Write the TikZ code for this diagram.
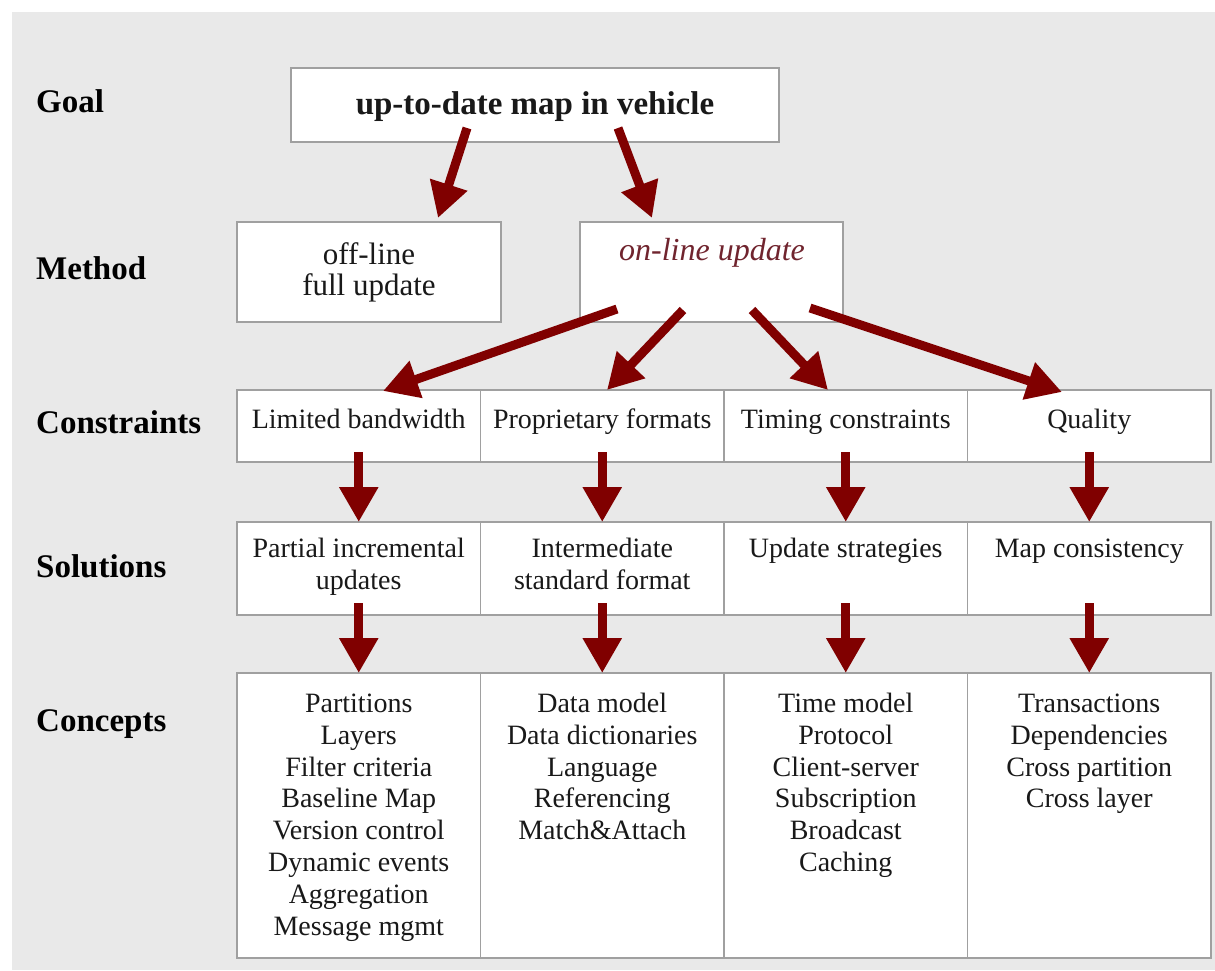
\documentclass[tikz,border=0pt]{standalone}
\usepackage{fontspec}
\setmainfont{Liberation Serif}
\usetikzlibrary{arrows.meta}
\definecolor{bggray}{RGB}{233,233,233}
\definecolor{boxline}{RGB}{160,160,160}
\definecolor{arrowred}{RGB}{128,0,0}
\definecolor{onlinered}{RGB}{112,36,46}
\definecolor{ink}{RGB}{25,25,25}
\begin{document}
\begin{tikzpicture}[x=1pt,y=-1pt,
  box/.style={draw=boxline, line width=1.5pt, fill=white, inner sep=0pt,
    outer sep=0pt, anchor=north west},
  rowlabel/.style={anchor=base west, inner sep=0pt,
    font=\fontsize{33}{38}\selectfont\bfseries},
  boxtext/.style={inner sep=0pt, text=ink, font=\fontsize{28}{31.9}\selectfont},
  celltext/.style={boxtext, anchor=base},
  listtext/.style={boxtext, anchor=north, align=center},
  bigarrow/.style={draw=arrowred, line width=9pt,
    -{Triangle[width=37pt,length=35pt]}}
]
% canvas and grey panel
\useasboundingbox (0,0) rectangle (1215,970);
\fill[white] (0,0) rectangle (1215,970);
\fill[bggray] (12,12) rectangle (1215,970);

% row labels
\node[rowlabel] (lgoal) at (36,112) {Goal};
\node[rowlabel] (lmethod) at (36,279) {Method};
\node[rowlabel] (lcons) at (36,433) {Constraints};
\node[rowlabel] (lsol) at (36,577) {Solutions};
\node[rowlabel] (lconc) at (36,731) {Concepts};

% goal and methods
\node[box, minimum width=488pt, minimum height=74pt] (goal) at (291,68) {};
\node[box, minimum width=264pt, minimum height=100pt] (off) at (237,222) {};
\node[box, minimum width=263pt, minimum height=100pt] (on) at (580,222) {};

\node[boxtext, anchor=base, font=\fontsize{33}{38}\selectfont\bfseries]
  (goaltext) at (535,114) {up-to-date map in vehicle};
\node[listtext, font=\fontsize{31}{28.5}\selectfont]
  (offtext) at (369,242) {\strut off-line\\full update};
\node[boxtext, anchor=base, text=onlinered, font=\fontsize{32}{36}\selectfont\itshape]
  (ontext) at (712,260) {on-line update};

% four columns: constraints, solutions, concepts
\foreach \i/\x in {1/237,2/480.5,3/724,4/967.5}{
  \node[box, minimum width=243.5pt, minimum height=72pt] (c\i) at (\x,390) {};
  \node[box, minimum width=243.5pt, minimum height=93pt] (s\i) at (\x,522) {};
  \node[box, minimum width=243.5pt, minimum height=285pt] (k\i) at (\x,673) {};
}

\node[celltext] (ct1) at (358.75,428) {Limited bandwidth};
\node[celltext] (ct2) at (602.25,428) {Proprietary formats};
\node[celltext] (ct3) at (845.75,428) {Timing constraints};
\node[celltext] (ct4) at (1089.25,428) {Quality};

\node[listtext] (st1) at (358.75,534.6) {\strut Partial incremental\\updates};
\node[listtext] (st2) at (602.25,534.6) {\strut Intermediate\\standard format};
\node[listtext] (st3) at (845.75,534.6) {\strut Update strategies};
\node[listtext] (st4) at (1089.25,534.6) {\strut Map consistency};

\node[listtext] (kt1) at (358.75,689.7) {\strut Partitions\\Layers\\Filter criteria\\Baseline Map\\Version control\\Dynamic events\\Aggregation\\Message mgmt};
\node[listtext] (kt2) at (602.25,689.7) {\strut Data model\\Data dictionaries\\Language\\Referencing\\Match\&Attach};
\node[listtext] (kt3) at (845.75,689.7) {\strut Time model\\Protocol\\Client-server\\Subscription\\Broadcast\\Caching};
\node[listtext] (kt4) at (1089.25,689.7) {\strut Transactions\\Dependencies\\Cross partition\\Cross layer};

% arrows
\draw[bigarrow] ([xshift=-68pt,yshift=14pt]goal.south) -- ([xshift=69pt,yshift=4pt]off.north);
\draw[bigarrow] ([xshift=83pt,yshift=14pt]goal.south) -- ([xshift=-59.5pt,yshift=4pt]on.north);

\draw[bigarrow] ([xshift=-94.5pt,yshift=13pt]on.south) -- ([xshift=24.25pt,yshift=-1pt]c1.north);
\draw[bigarrow] ([xshift=-28.5pt,yshift=12pt]on.south) -- ([xshift=4.75pt]c2.north);
\draw[bigarrow] ([xshift=40.5pt,yshift=12pt]on.south) -- ([xshift=-17.75pt]c3.north);
\draw[bigarrow] ([xshift=98.5pt,yshift=14pt]on.south) -- ([xshift=-27.25pt,yshift=-2pt]c4.north);

\foreach \i in {1,...,4}{
  \draw[bigarrow] ([yshift=10pt]c\i.south) -- (s\i.north);
  \draw[bigarrow] ([yshift=12pt]s\i.south) -- (k\i.north);
}
\end{tikzpicture}
\end{document}
